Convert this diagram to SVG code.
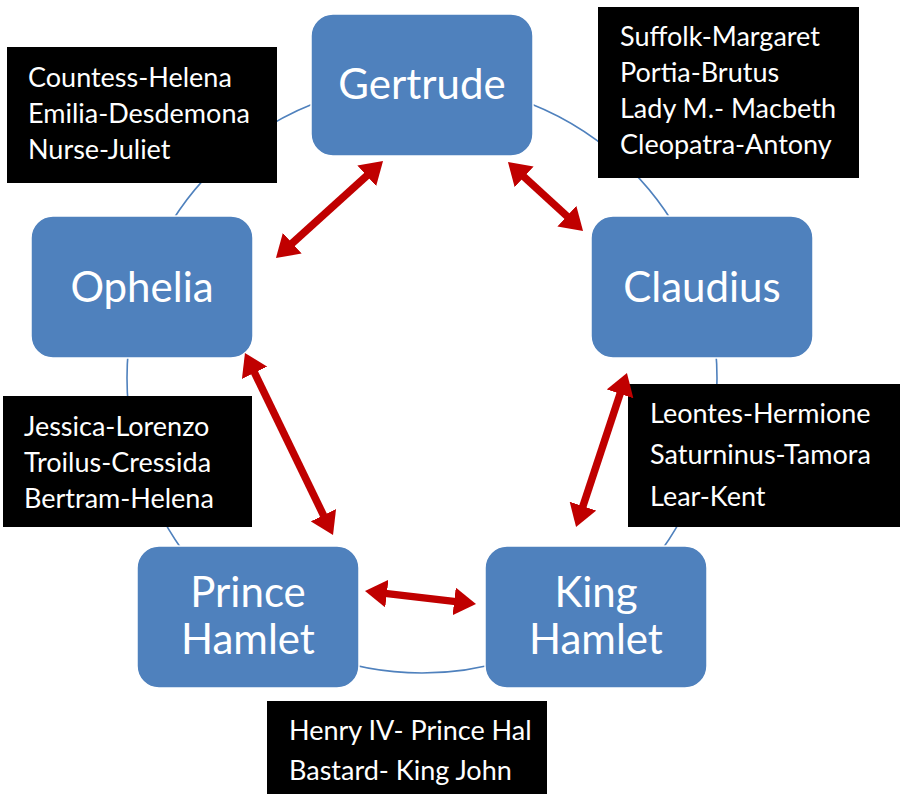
<svg xmlns="http://www.w3.org/2000/svg" width="907" height="794" viewBox="0 0 907 794">
<defs>
<style>
.ring{fill:none;stroke:#4f81bd;stroke-width:1.6}
.node rect{fill:#4f81bd;stroke:#ffffff;stroke-width:1.5}
.node text{fill:#ffffff;font-family:Lato,"Liberation Sans",sans-serif;font-size:42px;text-anchor:middle}
.note rect{fill:#000000}
.note text{fill:#ffffff;font-family:Lato,"Liberation Sans",sans-serif;font-size:27px}
.arrow{stroke:#c00000;stroke-width:7.5;fill:none;marker-start:url(#ah);marker-end:url(#ah)}
</style>
<marker id="ah" markerUnits="userSpaceOnUse" markerWidth="26" markerHeight="28" refX="4" refY="14" orient="auto-start-reverse" viewBox="0 0 26 28">
<path d="M0,0 L22,14 L0,28 z" fill="#c00000"/>
</marker>
</defs>
<rect width="907" height="794" fill="#ffffff"/>
<circle class="ring" cx="422" cy="378" r="295"/>

<g id="gertrude" class="node"><rect x="311" y="14" width="222" height="142" rx="22"/><text x="422" y="99">Gertrude</text></g>
<g id="ophelia" class="node"><rect x="31" y="216" width="222" height="142" rx="22"/><text x="142" y="302">Ophelia</text></g>
<g id="claudius" class="node"><rect x="591" y="216" width="222" height="142" rx="22"/><text x="702" y="302">Claudius</text></g>
<g id="prince-hamlet" class="node"><rect x="137" y="546" width="222" height="142" rx="22"/><text x="248" y="607">Prince</text><text x="248" y="654">Hamlet</text></g>
<g id="king-hamlet" class="node"><rect x="485" y="546" width="222" height="142" rx="22"/><text x="596" y="607">King</text><text x="596" y="654">Hamlet</text></g>

<g id="note-top-left" class="note"><rect x="7" y="47" width="270" height="136"/>
<text x="28" y="87">Countess-Helena</text><text x="28" y="123">Emilia-Desdemona</text><text x="28" y="159">Nurse-Juliet</text></g>
<g id="note-top-right" class="note"><rect x="598" y="7" width="261" height="171"/>
<text x="620" y="46">Suffolk-Margaret</text><text x="620" y="82">Portia-Brutus</text><text x="620" y="118">Lady M.- Macbeth</text><text x="620" y="154">Cleopatra-Antony</text></g>
<g id="note-left" class="note"><rect x="3" y="396" width="249" height="131"/>
<text x="24" y="436">Jessica-Lorenzo</text><text x="24" y="472">Troilus-Cressida</text><text x="24" y="508">Bertram-Helena</text></g>
<g id="note-right" class="note"><rect x="628" y="384" width="272" height="143"/>
<text x="650" y="423">Leontes-Hermione</text><text x="650" y="464">Saturninus-Tamora</text><text x="650" y="506">Lear-Kent</text></g>
<g id="note-bottom" class="note"><rect x="267" y="701" width="280" height="93"/>
<text x="289" y="740">Henry IV- Prince Hal</text><text x="289" y="780">Bastard- King John</text></g>

<g id="connectors">
<line class="arrow" x1="289.3" y1="245.9" x2="369.7" y2="173.1"/>
<line class="arrow" x1="521.2" y1="174.2" x2="569.8" y2="218.8"/>
<line class="arrow" x1="252.8" y1="369.2" x2="325.2" y2="518.8"/>
<line class="arrow" x1="621.3" y1="390.1" x2="581.7" y2="509.9"/>
<line class="arrow" x1="382.9" y1="593.1" x2="458.1" y2="601.9"/>
</g>
</svg>
